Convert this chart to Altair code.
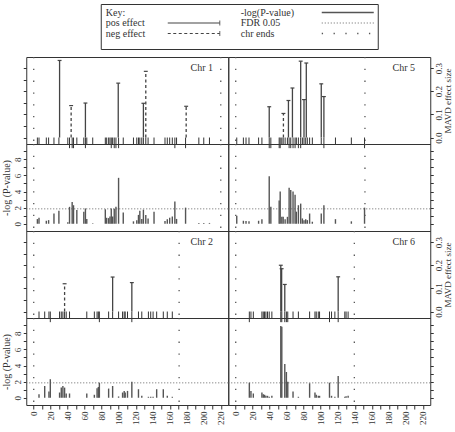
import altair as alt
import pandas as pd

FONT = "Liberation Serif"
INK = "#333333"

# ---------------- data ----------------
chr_names = ["Chr 1", "Chr 5", "Chr 2", "Chr 6"]
chr_lengths = [220, 152, 171, 139.5]

chr1_markers = [4.3, 6.2, 14.8, 17.5, 23.8, 29.6, 40.1, 42.1, 45.2, 46.8, 50.7, 58.9, 60.8, 62.4, 69.4,
                84.2, 85.8, 88.1, 89.7, 91.2, 92.8, 94.7, 96.7, 99.8, 105.3, 117.3, 121.2, 123.2, 124.8,
                127.1, 129.0, 131.8, 134.5, 141.5, 154.4, 157.1, 159.9, 163.0, 166.0, 168.0, 178.6,
                194.2, 200.0, 206.7]
chr1_logp = [0.58, 0.74, 0.37, 0.45, 1.27, 1.6, 0.2, 2.1, 2.7, 2.3, 1.7, 1.5, 1.9, 0.6, 0.05,
             1.8, 0.74, 0.7, 0.9, 1.9, 0.9, 1.85, 2.1, 5.7, 1.4, 0.3, 0.45, 1.1, 1.6,
             0.6, 1.75, 1.1, 0.65, 1.5, 0.35, 0.55, 0.75, 0.9, 2.75, 0.6, 2.0,
             0.1, 0.1, 0.1]
chr1_eff_pos = [30.4, 44.0, 60.8, 99.4, 129.0, 131.8, 179.3]
chr1_eff_val = [0.333, 0.138, 0.149, 0.235, 0.148, 0.286, 0.135]
chr1_eff_sign = ["pos", "neg", "pos", "pos", "pos", "neg", "neg"]

chr5_markers = [1.2, 9.0, 12.1, 15.6, 26.9, 30.8, 39.4, 41.3, 51.1, 52.3, 54.2, 55.8, 58.1, 60.8, 62.8,
                64.7, 67.4, 69.8, 71.3, 73.7, 76.4, 78.4, 80.3, 82.3, 84.2, 86.9, 90.1, 100.6, 103.7,
                117.3, 136.0, 151.5]
chr5_logp = [1.0, 0.37, 0.33, 0.3, 0.37, 0.57, 5.9, 2.1, 2.9, 4.0, 0.86, 0.86, 0.57, 0.86, 4.47,
             4.2, 4.0, 3.6, 1.5, 2.3, 2.5, 0.66, 0.45, 0.57, 0.45, 1.27, 0.25, 1.27, 2.3,
             0.57, 0.3, 2.0]
chr5_eff_pos = [39.4, 56.1, 62.0, 66.7, 76.4, 80.3, 83.0, 100.6, 103.7]
chr5_eff_val = [0.133, 0.104, 0.16, 0.214, 0.33, 0.164, 0.322, 0.232, 0.177]
chr5_eff_sign = ["pos", "neg", "pos", "pos", "pos", "pos", "pos", "pos", "pos"]

chr2_markers = [6.2, 12.9, 17.9, 19.5, 30.4, 32.4, 34.3, 36.3, 38.2, 42.1, 62.4, 71.3, 74.5, 76.0, 77.2,
                88.1, 92.8, 99.8, 104.5, 106.4, 107.6, 110.3, 115.4, 123.2, 127.1, 134.9, 137.6, 140.4,
                144.6, 152.4, 157.1, 163.0]
chr2_logp = [0.45, 1.46, 0.77, 2.3, 0.65, 1.26, 1.46, 1.26, 0.53, 0.53, 0.53, 0.37, 1.18, 1.34, 1.87,
             1.14, 1.46, 0.16, 0.65, 0.85, 0.65, 0.85, 2.0, 1.06, 0.24, 0.12, 0.12, 0.12,
             1.06, 1.06, 0.24, 0.12]
chr2_eff_pos = [36.3, 92.8, 115.4]
chr2_eff_val = [0.12, 0.149, 0.125]
chr2_eff_sign = ["neg", "pos", "pos"]

chr6_markers = [16.0, 17.9, 20.7, 30.8, 32.4, 33.9, 35.5, 37.4, 39.4, 42.5, 53.0, 54.2, 57.7, 59.6, 61.2,
                67.4, 73.7, 86.9, 93.2, 94.7, 97.1, 98.6, 110.3, 112.7, 116.6, 120.5, 128.3, 129.8, 132.2]
chr6_logp = [1.87, 0.85, 0.53, 0.65, 0.45, 0.37, 0.24, 0.24, 0.12, 0.24, 8.9, 8.8, 4.2, 3.2, 2.0,
             0.77, 0.12, 1.8, 0.65, 0.37, 0.24, 0.24, 1.87, 0.24, 0.12, 2.7, 0.12, 0.2, 0.24]
chr6_eff_pos = [53.0, 54.0, 57.7, 120.5]
chr6_eff_val = [0.2, 0.185, 0.117, 0.15]
chr6_eff_sign = ["pos", "pos", "pos", "pos"]

fdr_threshold = 1.85

x_ticks = list(range(0, 221, 10))
effect_ticks_minor = [0, 0.05, 0.1, 0.15, 0.2, 0.25, 0.3]
effect_ticks_major = [0, 0.1, 0.2, 0.3]
logp_ticks = list(range(0, 10))

key_labels = ["Key:", "pos effect", "neg effect", "-log(P-value)", "FDR 0.05", "chr ends"]
key_styles = ["none", "pos", "neg", "logp", "fdr", "ends"]

# ---------------- layout constants ----------------
XDOM = [-8.8, 228.8]
EDOM = [-0.028, 0.348]
PDOM = [-0.9, 9.9]
W, H = 202, 87

chrom = {
    "Chr 1": (chr1_markers, chr1_logp, chr1_eff_pos, chr1_eff_val, chr1_eff_sign),
    "Chr 5": (chr5_markers, chr5_logp, chr5_eff_pos, chr5_eff_val, chr5_eff_sign),
    "Chr 2": (chr2_markers, chr2_logp, chr2_eff_pos, chr2_eff_val, chr2_eff_sign),
    "Chr 6": (chr6_markers, chr6_logp, chr6_eff_pos, chr6_eff_val, chr6_eff_sign),
}
chr_len = dict(zip(chr_names, chr_lengths))


def xenc(field, bottom):
    if bottom:
        ax = alt.Axis(values=x_ticks, labelExpr="datum.value % 20 == 0 ? datum.label : ''",
                      labelAngle=270, title=None, grid=False, domain=False, tickSize=4,
                      labelPadding=2)
    else:
        ax = None
    return alt.X(f"{field}:Q", scale=alt.Scale(domain=XDOM, nice=False, zero=False), axis=ax)


def yenc_effect(field, left):
    if left:
        ax = alt.Axis(orient="left", values=effect_ticks_minor, labels=False, title=None,
                      domain=False, grid=False, tickSize=3)
    else:
        ax = alt.Axis(orient="right", values=effect_ticks_major, format=".1f", labelAngle=270,
                      title="MAVD effect size", titleAngle=270, titleBaseline="top",
                      titleFontSize=9, domain=False, grid=False, tickSize=3, labelPadding=1,
                      titlePadding=0)
    return alt.Y(f"{field}:Q", scale=alt.Scale(domain=EDOM, nice=False, zero=False), axis=ax)


def yenc_logp(field, left):
    if left:
        ax = alt.Axis(orient="left", values=logp_ticks,
                      labelExpr="datum.value % 2 == 0 ? datum.label : ''", labelAngle=270,
                      title="-log (P-value)", domain=False, grid=False, tickSize=3,
                      labelPadding=1, titlePadding=2)
    else:
        ax = alt.Axis(orient="right", values=logp_ticks, labels=False, title=None,
                      domain=False, grid=False, tickSize=3)
    return alt.Y(f"{field}:Q", scale=alt.Scale(domain=PDOM, nice=False, zero=False), axis=ax)


def effect_panel(name, left):
    markers, logp, epos, evals, esign = chrom[name]
    ends = pd.DataFrame({"pos": [0, chr_len[name]]})
    rug = pd.DataFrame({"pos": markers, "logp": logp})
    rug["y"] = 0.0
    rug["y2"] = [EDOM[0] - (0.018 if p >= fdr_threshold else 0.0) for p in logp]
    eff = pd.DataFrame({"pos": epos, "val": evals, "sign": esign})
    eff["zero"] = 0.0
    eff["xa"] = eff["pos"] - 2.3
    eff["xb"] = eff["pos"] + 2.3
    lab = pd.DataFrame({"pos": [211.0], "y": [0.30], "text": [name]})

    l_ends = alt.Chart(ends).mark_rule(color="#555", strokeWidth=1.3, strokeDash=[1.3, 10.5]).encode(
        x=xenc("pos", False))
    l_rug = alt.Chart(rug).mark_rule(color=INK, strokeWidth=1).encode(
        x=xenc("pos", False), y=yenc_effect("y", left), y2="y2:Q")
    l_pos = alt.Chart(eff).transform_filter("datum.sign == 'pos'").mark_rule(
        color="#444", strokeWidth=1.3).encode(
        x=xenc("pos", False), y=yenc_effect("zero", left), y2="val:Q")
    l_neg = alt.Chart(eff).transform_filter("datum.sign == 'neg'").mark_rule(
        color="#444", strokeWidth=1.3, strokeDash=[3, 2.5]).encode(
        x=xenc("pos", False), y=yenc_effect("zero", left), y2="val:Q")
    l_cap = alt.Chart(eff).mark_rule(color="#444", strokeWidth=1.2).encode(
        x=xenc("xa", False), x2="xb:Q", y=yenc_effect("val", left))
    l_lab = alt.Chart(lab).mark_text(font=FONT, fontSize=10, color=INK, align="right",
                                     baseline="middle").encode(
        x=xenc("pos", False), y=yenc_effect("y", left), text="text:N")
    return alt.layer(l_ends, l_rug, l_pos, l_neg, l_cap, l_lab).properties(width=W, height=H)


def logp_panel(name, left, bottom):
    markers, logp, *_ = chrom[name]
    ends = pd.DataFrame({"pos": [0, chr_len[name]]})
    bars = pd.DataFrame({"pos": markers, "logp": logp})
    bars["zero"] = 0.0
    fdr = pd.DataFrame({"y": [fdr_threshold]})

    l_ends = alt.Chart(ends).mark_rule(color="#555", strokeWidth=1.3, strokeDash=[1.3, 10.5]).encode(
        x=xenc("pos", bottom))
    l_fdr = alt.Chart(fdr).mark_rule(color="#666", strokeWidth=1, strokeDash=[1, 2]).encode(
        y=yenc_logp("y", left))
    l_bars = alt.Chart(bars).mark_rule(color="#555", strokeWidth=1.4).encode(
        x=xenc("pos", bottom), y=yenc_logp("zero", left), y2="logp:Q")
    return alt.layer(l_ends, l_fdr, l_bars).properties(width=W, height=H)


panels = [
    effect_panel("Chr 1", True), effect_panel("Chr 5", False),
    logp_panel("Chr 1", True, False), logp_panel("Chr 5", False, False),
    effect_panel("Chr 2", True), effect_panel("Chr 6", False),
    logp_panel("Chr 2", True, True), logp_panel("Chr 6", False, True),
]
grid = alt.concat(*panels, columns=2, spacing=0, bounds="flush")

# ---------------- key box ----------------
KW, KH = 277, 45
kdf = pd.DataFrame({"label": key_labels, "style": key_styles,
                    "col": [0, 0, 0, 1, 1, 1], "row": [0, 1, 2, 0, 1, 2]})
kdf["tx"] = 5 + kdf["col"] * 135
kdf["ty"] = 8.5 + kdf["row"] * 10.5
kdf["lx0"] = 67 + kdf["col"] * 154
kdf["lx1"] = kdf["lx0"] + 52

kx = lambda f: alt.X(f"{f}:Q", scale=alt.Scale(domain=[0, KW], nice=False, zero=False), axis=None)
ky = lambda f: alt.Y(f"{f}:Q", scale=alt.Scale(domain=[0, KH], nice=False, zero=False, reverse=True),
                     axis=None)

kbase = alt.Chart(kdf)
k_text = kbase.mark_text(font=FONT, fontSize=10, color=INK, align="left", baseline="middle").encode(
    x=kx("tx"), y=ky("ty"), text="label:N")
k_pos = kbase.transform_filter("datum.style == 'pos'").mark_rule(color="#444", strokeWidth=1.2).encode(
    x=kx("lx0"), x2="lx1:Q", y=ky("ty"))
k_neg = kbase.transform_filter("datum.style == 'neg'").mark_rule(
    color="#444", strokeWidth=1.2, strokeDash=[3, 2.5]).encode(x=kx("lx0"), x2="lx1:Q", y=ky("ty"))
k_arrow = kbase.transform_filter("datum.style == 'pos' || datum.style == 'neg'").mark_tick(
    color="#444", thickness=1.2, size=5, orient="vertical").encode(x=kx("lx1"), y=ky("ty"))
k_logp = kbase.transform_filter("datum.style == 'logp'").mark_rule(color="#555", strokeWidth=1.6).encode(
    x=kx("lx0"), x2="lx1:Q", y=ky("ty"))
k_fdr = kbase.transform_filter("datum.style == 'fdr'").mark_rule(
    color="#666", strokeWidth=1, strokeDash=[1, 2]).encode(x=kx("lx0"), x2="lx1:Q", y=ky("ty"))
k_ends = kbase.transform_filter("datum.style == 'ends'").mark_rule(
    color="#555", strokeWidth=1.3, strokeDash=[1.3, 10.5]).encode(x=kx("lx0"), x2="lx1:Q", y=ky("ty"))
key = alt.layer(k_text, k_pos, k_neg, k_arrow, k_logp, k_fdr, k_ends).properties(width=KW, height=KH)

chart = alt.vconcat(key, grid, spacing=5, center=True).properties(
    padding={"left": 0, "top": 3, "right": 0, "bottom": 0}, background="white"
).configure_view(stroke=INK, strokeWidth=1).configure_axis(
    labelFont=FONT, titleFont=FONT, labelColor=INK, titleColor=INK, tickColor=INK,
    titleFontWeight="normal", labelFontSize=9, titleFontSize=10, grid=False
)

chart.save("out.html", embed_options={"renderer": "svg", "actions": False})
